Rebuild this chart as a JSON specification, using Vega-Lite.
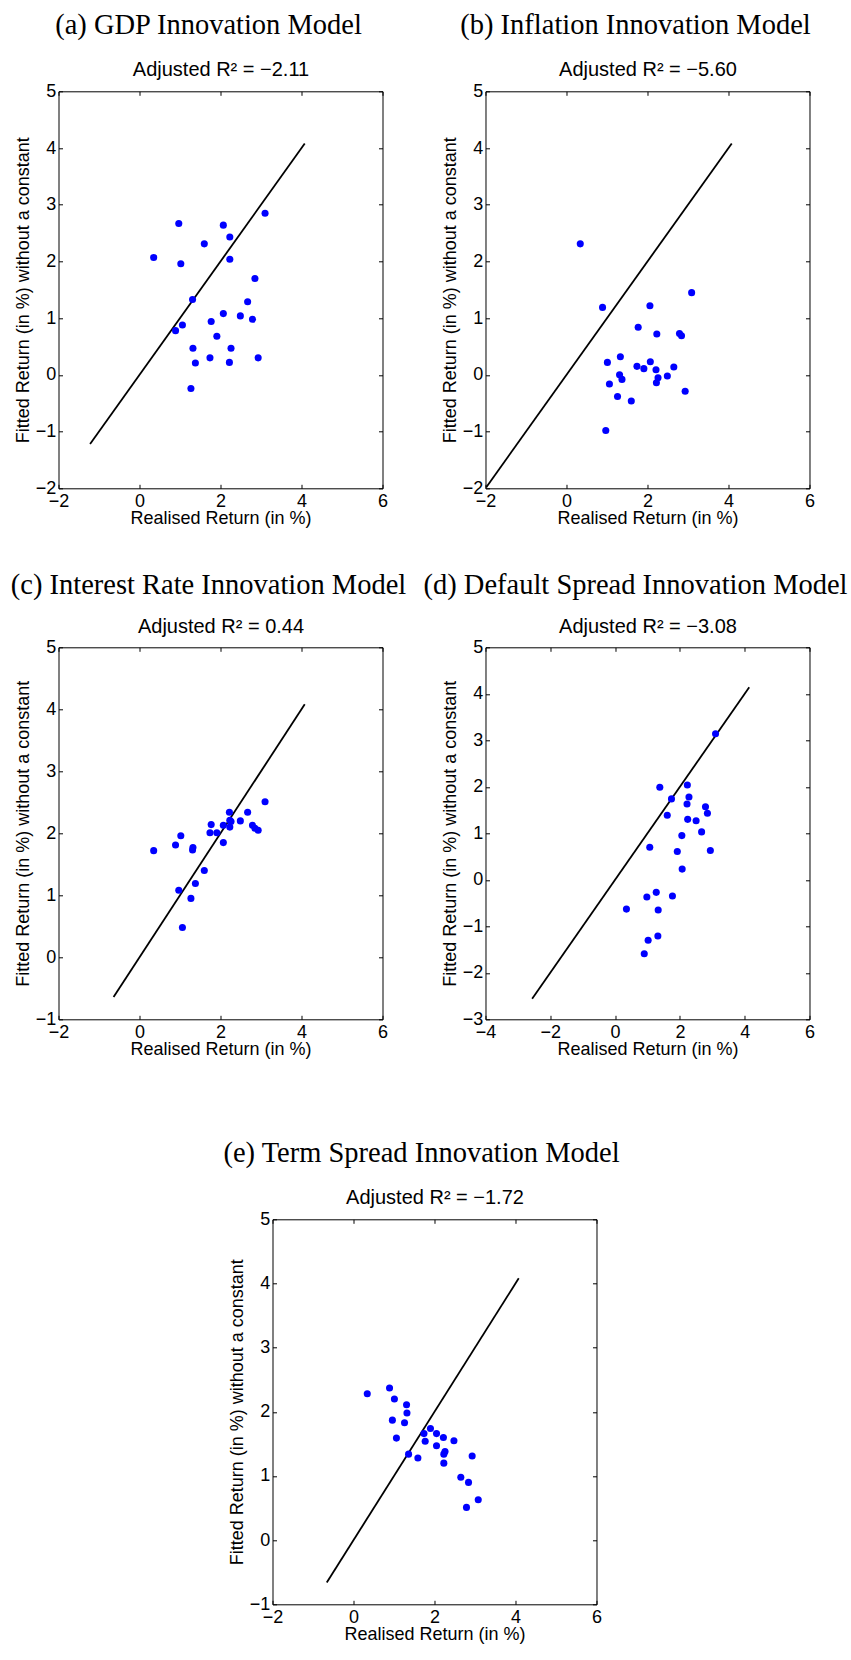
{
  "$schema": "https://vega.github.io/schema/vega-lite/v6.json",
  "background": "white",
  "padding": {"left": 9.5, "top": 10.3, "right": 0, "bottom": 0},
  "config": {
    "view": {"stroke": "black", "strokeWidth": 1},
    "axis": {"domain": false, "grid": false, "tickColor": "black", "tickSize": -4, "tickWidth": 1, "minExtent": 0, "labelFont": "Liberation Sans", "labelFontSize": 18, "labelColor": "black", "titleFont": "Liberation Sans", "titleFontSize": 18, "titleFontWeight": "normal", "titleColor": "black", "labelFlush": false, "labelOverlap": false, "labelBound": false},
    "axisX": {"labelPadding": 8, "titlePadding": -1, "minExtent": 0},
    "axisY": {"labelPadding": 6.7, "titlePadding": 3, "minExtent": 0},
    "title": {"font": "Liberation Serif", "fontSize": 28.5, "fontWeight": "normal", "color": "black", "offset": 20, "anchor": "middle", "frame": "group", "dx": -12}
  },
  "datasets": {
    "pts": [
      {"p":"a","x":0.35,"y":2.07},{"p":"a","x":0.97,"y":2.67},{"p":"a","x":1.02,"y":1.96},{"p":"a","x":1.60,"y":2.31},{"p":"a","x":2.07,"y":2.64},{"p":"a","x":2.23,"y":2.43},{"p":"a","x":2.23,"y":2.04},{"p":"a","x":3.10,"y":2.85},{"p":"a","x":2.85,"y":1.70},{"p":"a","x":1.31,"y":1.33},{"p":"a","x":2.67,"y":1.29},{"p":"a","x":2.07,"y":1.08},{"p":"a","x":2.49,"y":1.04},{"p":"a","x":2.79,"y":0.98},{"p":"a","x":1.77,"y":0.94},{"p":"a","x":1.06,"y":0.88},{"p":"a","x":0.89,"y":0.78},{"p":"a","x":1.91,"y":0.68},{"p":"a","x":1.32,"y":0.47},{"p":"a","x":2.26,"y":0.47},{"p":"a","x":1.74,"y":0.30},{"p":"a","x":2.93,"y":0.30},{"p":"a","x":1.38,"y":0.21},{"p":"a","x":2.22,"y":0.22},{"p":"a","x":1.27,"y":-0.24},
      {"p":"b","x":0.34,"y":2.31},{"p":"b","x":0.89,"y":1.19},{"p":"b","x":2.06,"y":1.22},{"p":"b","x":3.09,"y":1.45},{"p":"b","x":1.77,"y":0.84},{"p":"b","x":2.23,"y":0.72},{"p":"b","x":2.79,"y":0.73},{"p":"b","x":2.84,"y":0.69},{"p":"b","x":1.33,"y":0.32},{"p":"b","x":1.01,"y":0.22},{"p":"b","x":2.07,"y":0.23},{"p":"b","x":1.74,"y":0.15},{"p":"b","x":1.91,"y":0.11},{"p":"b","x":2.21,"y":0.09},{"p":"b","x":2.65,"y":0.14},{"p":"b","x":1.31,"y":0.0},{"p":"b","x":1.37,"y":-0.08},{"p":"b","x":2.26,"y":-0.05},{"p":"b","x":2.49,"y":-0.02},{"p":"b","x":1.06,"y":-0.16},{"p":"b","x":2.22,"y":-0.14},{"p":"b","x":2.93,"y":-0.29},{"p":"b","x":1.26,"y":-0.38},{"p":"b","x":1.60,"y":-0.46},{"p":"b","x":0.97,"y":-0.98},
      {"p":"c","x":0.35,"y":1.72},{"p":"c","x":0.89,"y":1.81},{"p":"c","x":1.02,"y":1.96},{"p":"c","x":0.97,"y":1.08},{"p":"c","x":1.06,"y":0.48},{"p":"c","x":1.27,"y":0.95},{"p":"c","x":1.32,"y":1.77},{"p":"c","x":1.31,"y":1.73},{"p":"c","x":1.38,"y":1.19},{"p":"c","x":1.60,"y":1.40},{"p":"c","x":1.74,"y":2.01},{"p":"c","x":1.77,"y":2.14},{"p":"c","x":1.91,"y":2.01},{"p":"c","x":2.07,"y":2.13},{"p":"c","x":2.07,"y":1.85},{"p":"c","x":2.22,"y":2.34},{"p":"c","x":2.23,"y":2.21},{"p":"c","x":2.23,"y":2.10},{"p":"c","x":2.26,"y":2.19},{"p":"c","x":2.49,"y":2.20},{"p":"c","x":2.67,"y":2.34},{"p":"c","x":2.79,"y":2.13},{"p":"c","x":2.85,"y":2.08},{"p":"c","x":2.93,"y":2.05},{"p":"c","x":3.10,"y":2.51},
      {"p":"d","x":0.35,"y":-0.63},{"p":"d","x":0.90,"y":-1.59},{"p":"d","x":0.98,"y":-0.37},{"p":"d","x":1.02,"y":-1.30},{"p":"d","x":1.07,"y":0.70},{"p":"d","x":1.27,"y":-0.27},{"p":"d","x":1.32,"y":-1.21},{"p":"d","x":1.33,"y":-0.65},{"p":"d","x":1.38,"y":1.99},{"p":"d","x":1.61,"y":1.39},{"p":"d","x":1.74,"y":1.74},{"p":"d","x":1.77,"y":-0.35},{"p":"d","x":1.92,"y":0.61},{"p":"d","x":2.06,"y":0.95},{"p":"d","x":2.07,"y":0.23},{"p":"d","x":2.23,"y":2.04},{"p":"d","x":2.22,"y":1.63},{"p":"d","x":2.24,"y":1.30},{"p":"d","x":2.28,"y":1.78},{"p":"d","x":2.50,"y":1.27},{"p":"d","x":2.67,"y":1.03},{"p":"d","x":2.79,"y":1.57},{"p":"d","x":2.85,"y":1.43},{"p":"d","x":2.94,"y":0.63},{"p":"d","x":3.10,"y":3.14},
      {"p":"e","x":0.34,"y":2.28},{"p":"e","x":0.89,"y":2.37},{"p":"e","x":0.96,"y":1.87},{"p":"e","x":1.01,"y":2.20},{"p":"e","x":1.06,"y":1.59},{"p":"e","x":1.26,"y":1.83},{"p":"e","x":1.31,"y":2.11},{"p":"e","x":1.32,"y":1.98},{"p":"e","x":1.36,"y":1.34},{"p":"e","x":1.59,"y":1.28},{"p":"e","x":1.74,"y":1.66},{"p":"e","x":1.77,"y":1.54},{"p":"e","x":1.90,"y":1.74},{"p":"e","x":2.05,"y":1.66},{"p":"e","x":2.05,"y":1.47},{"p":"e","x":2.22,"y":1.60},{"p":"e","x":2.23,"y":1.20},{"p":"e","x":2.23,"y":1.34},{"p":"e","x":2.26,"y":1.38},{"p":"e","x":2.48,"y":1.55},{"p":"e","x":2.65,"y":0.98},{"p":"e","x":2.79,"y":0.51},{"p":"e","x":2.84,"y":0.90},{"p":"e","x":2.93,"y":1.31},{"p":"e","x":3.08,"y":0.63}
    ],
    "lines": [
      {"p":"a","x":-1.22,"y":-1.22},{"p":"a","x":4.08,"y":4.08},
      {"p":"b","x":-1.98,"y":-1.98},{"p":"b","x":4.08,"y":4.08},
      {"p":"c","x":-0.64,"y":-0.64},{"p":"c","x":4.08,"y":4.08},
      {"p":"d","x":-2.56,"y":-2.56},{"p":"d","x":4.14,"y":4.14},
      {"p":"e","x":-0.66,"y":-0.66},{"p":"e","x":4.08,"y":4.08}
    ]
  },
  "spacing": 79,
  "vconcat": [
    {
      "columns": 2,
      "spacing": {"row": 159, "column": 103},
      "bounds": "flush",
      "concat": [
        {
          "width": 324, "height": 397,
          "title": {"text": "(a) GDP Innovation Model"},
          "layer": [
            {"data": {"name": "lines"}, "transform": [{"filter": "datum.p == 'a'"}],
             "mark": {"type": "line", "color": "black", "strokeWidth": 1.8},
             "encoding": {
               "x": {"field": "x", "type": "quantitative", "scale": {"domain": [-2, 6], "nice": false, "zero": false}, "axis": {"orient": "top", "values": [-2, 0, 2, 4, 6], "labels": false, "title": "Adjusted R² = −2.11", "titleFontSize": 20, "titlePadding": 11}},
               "y": {"field": "y", "type": "quantitative", "scale": {"domain": [-2, 5], "nice": false, "zero": false}, "axis": {"orient": "right", "values": [-2, -1, 0, 1, 2, 3, 4, 5], "labels": false, "title": null}}}},
            {"data": {"name": "pts"}, "transform": [{"filter": "datum.p == 'a'"}],
             "mark": {"type": "circle", "color": "#0000ff", "size": 50, "opacity": 1},
             "encoding": {
               "x": {"field": "x", "type": "quantitative", "axis": {"orient": "bottom", "values": [-2, 0, 2, 4, 6], "title": "Realised Return (in %)"}},
               "y": {"field": "y", "type": "quantitative", "axis": {"orient": "left", "values": [-2, -1, 0, 1, 2, 3, 4, 5], "title": "Fitted Return (in %) without a constant"}}}}
          ],
          "resolve": {"axis": {"x": "independent", "y": "independent"}}
        },
        {
          "width": 324, "height": 397,
          "title": {"text": "(b) Inflation Innovation Model"},
          "layer": [
            {"data": {"name": "lines"}, "transform": [{"filter": "datum.p == 'b'"}],
             "mark": {"type": "line", "color": "black", "strokeWidth": 1.8},
             "encoding": {
               "x": {"field": "x", "type": "quantitative", "scale": {"domain": [-2, 6], "nice": false, "zero": false}, "axis": {"orient": "top", "values": [-2, 0, 2, 4, 6], "labels": false, "title": "Adjusted R² = −5.60", "titleFontSize": 20, "titlePadding": 11}},
               "y": {"field": "y", "type": "quantitative", "scale": {"domain": [-2, 5], "nice": false, "zero": false}, "axis": {"orient": "right", "values": [-2, -1, 0, 1, 2, 3, 4, 5], "labels": false, "title": null}}}},
            {"data": {"name": "pts"}, "transform": [{"filter": "datum.p == 'b'"}],
             "mark": {"type": "circle", "color": "#0000ff", "size": 50, "opacity": 1},
             "encoding": {
               "x": {"field": "x", "type": "quantitative", "axis": {"orient": "bottom", "values": [-2, 0, 2, 4, 6], "title": "Realised Return (in %)"}},
               "y": {"field": "y", "type": "quantitative", "axis": {"orient": "left", "values": [-2, -1, 0, 1, 2, 3, 4, 5], "title": "Fitted Return (in %) without a constant"}}}}
          ],
          "resolve": {"axis": {"x": "independent", "y": "independent"}}
        },
        {
          "width": 324, "height": 372,
          "title": {"text": "(c) Interest Rate Innovation Model", "offset": 17},
          "layer": [
            {"data": {"name": "lines"}, "transform": [{"filter": "datum.p == 'c'"}],
             "mark": {"type": "line", "color": "black", "strokeWidth": 1.8},
             "encoding": {
               "x": {"field": "x", "type": "quantitative", "scale": {"domain": [-2, 6], "nice": false, "zero": false}, "axis": {"orient": "top", "values": [-2, 0, 2, 4, 6], "labels": false, "title": "Adjusted R² = 0.44", "titleFontSize": 20, "titlePadding": 10}},
               "y": {"field": "y", "type": "quantitative", "scale": {"domain": [-1, 5], "nice": false, "zero": false}, "axis": {"orient": "right", "values": [-1, 0, 1, 2, 3, 4, 5], "labels": false, "title": null}}}},
            {"data": {"name": "pts"}, "transform": [{"filter": "datum.p == 'c'"}],
             "mark": {"type": "circle", "color": "#0000ff", "size": 50, "opacity": 1},
             "encoding": {
               "x": {"field": "x", "type": "quantitative", "axis": {"orient": "bottom", "values": [-2, 0, 2, 4, 6], "title": "Realised Return (in %)"}},
               "y": {"field": "y", "type": "quantitative", "axis": {"orient": "left", "values": [-1, 0, 1, 2, 3, 4, 5], "title": "Fitted Return (in %) without a constant"}}}}
          ],
          "resolve": {"axis": {"x": "independent", "y": "independent"}}
        },
        {
          "width": 324, "height": 372,
          "title": {"text": "(d) Default Spread Innovation Model", "offset": 17},
          "layer": [
            {"data": {"name": "lines"}, "transform": [{"filter": "datum.p == 'd'"}],
             "mark": {"type": "line", "color": "black", "strokeWidth": 1.8},
             "encoding": {
               "x": {"field": "x", "type": "quantitative", "scale": {"domain": [-4, 6], "nice": false, "zero": false}, "axis": {"orient": "top", "values": [-4, -2, 0, 2, 4, 6], "labels": false, "title": "Adjusted R² = −3.08", "titleFontSize": 20, "titlePadding": 10}},
               "y": {"field": "y", "type": "quantitative", "scale": {"domain": [-3, 5], "nice": false, "zero": false}, "axis": {"orient": "right", "values": [-3, -2, -1, 0, 1, 2, 3, 4, 5], "labels": false, "title": null}}}},
            {"data": {"name": "pts"}, "transform": [{"filter": "datum.p == 'd'"}],
             "mark": {"type": "circle", "color": "#0000ff", "size": 50, "opacity": 1},
             "encoding": {
               "x": {"field": "x", "type": "quantitative", "axis": {"orient": "bottom", "values": [-4, -2, 0, 2, 4, 6], "title": "Realised Return (in %)"}},
               "y": {"field": "y", "type": "quantitative", "axis": {"orient": "left", "values": [-3, -2, -1, 0, 1, 2, 3, 4, 5], "title": "Fitted Return (in %) without a constant"}}}}
          ],
          "resolve": {"axis": {"x": "independent", "y": "independent"}}
        }
      ]
    },
    {
      "spacing": 100,
      "bounds": "flush",
      "hconcat": [
        {"width": 114, "height": 1, "view": {"stroke": null}, "data": {"values": []}, "mark": "point"},
        {
          "width": 324, "height": 385,
          "title": {"text": "(e) Term Spread Innovation Model", "dx": -13},
          "layer": [
            {"data": {"name": "lines"}, "transform": [{"filter": "datum.p == 'e'"}],
             "mark": {"type": "line", "color": "black", "strokeWidth": 1.8},
             "encoding": {
               "x": {"field": "x", "type": "quantitative", "scale": {"domain": [-2, 6], "nice": false, "zero": false}, "axis": {"orient": "top", "values": [-2, 0, 2, 4, 6], "labels": false, "title": "Adjusted R² = −1.72", "titleFontSize": 20, "titlePadding": 11}},
               "y": {"field": "y", "type": "quantitative", "scale": {"domain": [-1, 5], "nice": false, "zero": false}, "axis": {"orient": "right", "values": [-1, 0, 1, 2, 3, 4, 5], "labels": false, "title": null}}}},
            {"data": {"name": "pts"}, "transform": [{"filter": "datum.p == 'e'"}],
             "mark": {"type": "circle", "color": "#0000ff", "size": 50, "opacity": 1},
             "encoding": {
               "x": {"field": "x", "type": "quantitative", "axis": {"orient": "bottom", "values": [-2, 0, 2, 4, 6], "title": "Realised Return (in %)"}},
               "y": {"field": "y", "type": "quantitative", "axis": {"orient": "left", "values": [-1, 0, 1, 2, 3, 4, 5], "title": "Fitted Return (in %) without a constant"}}}}
          ],
          "resolve": {"axis": {"x": "independent", "y": "independent"}}
        }
      ]
    }
  ]
}
